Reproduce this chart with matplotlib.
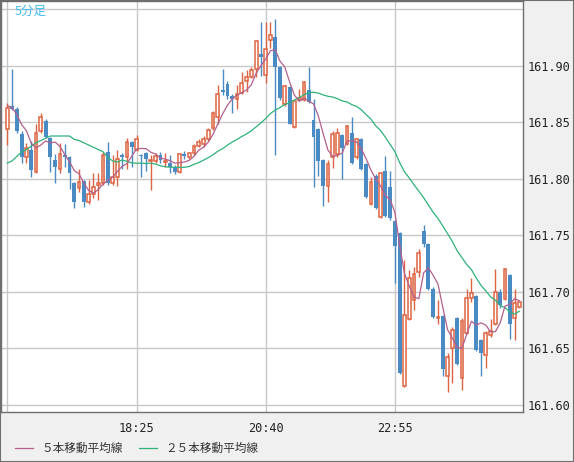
import numpy as np
import pandas as pd
import matplotlib
matplotlib.use("Agg")
import matplotlib.pyplot as plt
from matplotlib.patches import Rectangle

# 5-minute bars from 16:10, OHLC
start_time = "16:10"
opens = [161.844, 161.865, 161.862, 161.840, 161.819, 161.826, 161.806, 161.842, 161.851, 161.836,
         161.817, 161.809, 161.821, 161.819, 161.796, 161.792, 161.798, 161.780, 161.787, 161.795,
         161.796, 161.824, 161.796, 161.802, 161.821, 161.819, 161.833, 161.826, 161.821, 161.823,
         161.816, 161.816, 161.821, 161.815, 161.814, 161.811, 161.806, 161.822, 161.819, 161.823,
         161.829, 161.831, 161.835, 161.845, 161.855, 161.879, 161.884, 161.873, 161.871, 161.876,
         161.887, 161.890, 161.897, 161.911, 161.892, 161.923, 161.926, 161.899, 161.866, 161.881,
         161.846, 161.870, 161.870, 161.879, 161.852, 161.844, 161.817, 161.794, 161.819, 161.822,
         161.839, 161.831, 161.841, 161.819, 161.835, 161.813, 161.778, 161.803, 161.766, 161.807,
         161.793, 161.763, 161.752, 161.617, 161.676, 161.693, 161.718, 161.754, 161.742, 161.703,
         161.677, 161.679, 161.626, 161.650, 161.677, 161.624, 161.664, 161.695, 161.696, 161.657,
         161.644, 161.662, 161.672, 161.700, 161.694, 161.715, 161.677, 161.687]
highs = [161.867, 161.897, 161.864, 161.842, 161.832, 161.834, 161.849, 161.858, 161.853, 161.837,
         161.822, 161.832, 161.831, 161.820, 161.797, 161.809, 161.799, 161.799, 161.805, 161.805,
         161.824, 161.833, 161.821, 161.826, 161.823, 161.836, 161.834, 161.839, 161.822, 161.824,
         161.821, 161.823, 161.824, 161.823, 161.821, 161.812, 161.823, 161.825, 161.824, 161.831,
         161.835, 161.838, 161.845, 161.860, 161.883, 161.897, 161.887, 161.875, 161.883, 161.895,
         161.896, 161.899, 161.923, 161.939, 161.939, 161.939, 161.942, 161.900, 161.883, 161.882,
         161.870, 161.880, 161.887, 161.899, 161.871, 161.845, 161.818, 161.817, 161.842, 161.845,
         161.840, 161.848, 161.855, 161.836, 161.836, 161.814, 161.802, 161.804, 161.806, 161.820,
         161.807, 161.764, 161.753, 161.728, 161.719, 161.722, 161.738, 161.759, 161.743, 161.704,
         161.693, 161.680, 161.646, 161.669, 161.678, 161.677, 161.703, 161.712, 161.697, 161.658,
         161.665, 161.676, 161.720, 161.703, 161.721, 161.716, 161.703, 161.692]
lows = [161.830, 161.861, 161.841, 161.814, 161.814, 161.802, 161.805, 161.841, 161.836, 161.806,
        161.796, 161.805, 161.811, 161.791, 161.774, 161.788, 161.775, 161.778, 161.783, 161.781,
        161.795, 161.795, 161.795, 161.794, 161.809, 161.809, 161.811, 161.825, 161.802, 161.807,
        161.790, 161.814, 161.814, 161.811, 161.805, 161.804, 161.805, 161.818, 161.818, 161.821,
        161.828, 161.828, 161.834, 161.843, 161.849, 161.874, 161.871, 161.858, 161.862, 161.875,
        161.877, 161.889, 161.890, 161.891, 161.885, 161.916, 161.821, 161.870, 161.865, 161.849,
        161.845, 161.869, 161.869, 161.867, 161.793, 161.803, 161.776, 161.780, 161.810, 161.819,
        161.800, 161.830, 161.813, 161.818, 161.808, 161.783, 161.777, 161.773, 161.765, 161.766,
        161.764, 161.708, 161.627, 161.616, 161.675, 161.684, 161.713, 161.740, 161.702, 161.677,
        161.672, 161.626, 161.611, 161.619, 161.635, 161.613, 161.663, 161.691, 161.648, 161.626,
        161.633, 161.660, 161.671, 161.686, 161.693, 161.658, 161.657, 161.686]
closes = [161.863, 161.862, 161.842, 161.819, 161.827, 161.808, 161.841, 161.855, 161.837, 161.819,
          161.811, 161.822, 161.819, 161.805, 161.780, 161.797, 161.780, 161.787, 161.793, 161.796,
          161.821, 161.796, 161.802, 161.818, 161.819, 161.833, 161.828, 161.835, 161.820, 161.818,
          161.817, 161.820, 161.817, 161.816, 161.811, 161.806, 161.822, 161.820, 161.823, 161.829,
          161.833, 161.835, 161.843, 161.858, 161.875, 161.877, 161.873, 161.871, 161.875, 161.885,
          161.890, 161.896, 161.922, 161.908, 161.915, 161.927, 161.899, 161.872, 161.882, 161.849,
          161.869, 161.872, 161.886, 161.868, 161.837, 161.816, 161.794, 161.813, 161.840, 161.841,
          161.827, 161.847, 161.814, 161.835, 161.809, 161.784, 161.797, 161.774, 161.805, 161.767,
          161.765, 161.741, 161.628, 161.680, 161.712, 161.716, 161.734, 161.742, 161.703, 161.678,
          161.678, 161.632, 161.642, 161.666, 161.636, 161.674, 161.695, 161.699, 161.649, 161.646,
          161.664, 161.665, 161.700, 161.688, 161.720, 161.672, 161.690, 161.691]

# moving-average values at the left edge (their earlier bars are off the chart)
ma5_head = [161.865, 161.863, 161.857, 161.848]
ma25_head = [161.814, 161.816, 161.820, 161.824, 161.826, 161.829, 161.832, 161.834, 161.836, 161.838,
             161.838, 161.838, 161.838, 161.838, 161.835, 161.834, 161.832, 161.830, 161.828, 161.826,
             161.824, 161.819, 161.816, 161.815]

y_ticks = [161.60, 161.65, 161.70, 161.75, 161.80, 161.85, 161.90]
grid_times = ["16:10", "18:25", "20:40", "22:55"]
x_labels = ["", "18:25", "20:40", "22:55"]
title = "5分足"
legend_labels = ["５本移動平均線", "２５本移動平均線"]

up_color = "#dd6443"
down_color = "#4b8bc3"
ma5_color = "#b3608d"
ma25_color = "#2eb27a"
grid_color = "#c8c8c8"
frame_color = "#6e6e6e"

df = pd.DataFrame({"o": opens, "h": highs, "l": lows, "c": closes})
df.index = pd.date_range("2024-01-01 " + start_time, periods=len(df), freq="5min")
ma5 = df["c"].rolling(5).mean().to_numpy()
ma5[:len(ma5_head)] = ma5_head
ma25 = df["c"].rolling(25).mean().to_numpy()
ma25[:len(ma25_head)] = ma25_head

x = np.arange(len(df))
labels_hm = df.index.strftime("%H:%M").tolist()
grid_pos = [labels_hm.index(t) for t in grid_times]

fig = plt.figure(figsize=(5.74, 4.62), dpi=100, facecolor="#f0f0f0")
ax = fig.add_axes([1 / 574, 50 / 462, 522 / 574, 411 / 462])
ax.set_facecolor("white")

for g in y_ticks + [161.95]:
    ax.axhline(g, color=grid_color, lw=1, zorder=0)
for g in grid_pos:
    ax.axvline(g, color=grid_color, lw=1, zorder=0)

up = df["c"] >= df["o"]
body_lo = np.minimum(df["o"], df["c"])
body_h = np.maximum(np.abs(df["c"] - df["o"]), 0.0008)
ax.vlines(x[up], df["l"][up], df["h"][up], color=up_color, lw=1, zorder=2)
ax.vlines(x[~up], df["l"][~up], df["h"][~up], color=down_color, lw=1, zorder=2)
ax.bar(x[up], body_h[up], bottom=body_lo[up], width=0.58, facecolor="white",
       edgecolor=up_color, lw=1.1, zorder=3)
ax.bar(x[~up], body_h[~up], bottom=body_lo[~up], width=0.8, color=down_color,
       lw=0, zorder=3)

ax.plot(x, ma25, color=ma25_color, lw=0.9, zorder=4)
ax.plot(x, ma5, color=ma5_color, lw=0.9, zorder=4)

ax.set_xlim(-1.32, 107.77)
ax.set_ylim(161.5937, 161.9575)

ax.yaxis.tick_right()
ax.set_yticks(y_ticks)
ax.set_yticklabels(["%.2f" % v for v in y_ticks], family="DejaVu Sans Mono", fontsize=8.6, color="#222222")
ax.set_xticks(grid_pos)
ax.set_xticklabels(x_labels, family="DejaVu Sans Mono", fontsize=8.6, color="#222222")
ax.tick_params(axis="y", length=0, pad=3)
ax.tick_params(axis="x", length=0, pad=7)
for s in ax.spines.values():
    s.set_color(frame_color)
    s.set_linewidth(1)

ax.text(14 / 522, 1 - 10 / 411, title, transform=ax.transAxes, color="#3fbdf0",
        fontsize=9, family=["Noto Sans CJK JP", "DejaVu Sans"], va="center", ha="left")

# legend row at the bottom
ly = 1 - 448 / 462
fig.add_artist(plt.Line2D([15 / 574, 33 / 574], [ly, ly], color=ma5_color, lw=0.9))
fig.text(41 / 574, ly, legend_labels[0], fontsize=8.4, va="center", ha="left",
         family=["Noto Sans CJK JP", "DejaVu Sans"], color="#333333")
fig.add_artist(plt.Line2D([139 / 574, 157 / 574], [ly, ly], color=ma25_color, lw=0.9))
fig.text(165 / 574, ly, legend_labels[1], fontsize=8.4, va="center", ha="left",
         family=["Noto Sans CJK JP", "DejaVu Sans"], color="#333333")

fig.add_artist(Rectangle((0, 0), 1, 1, transform=fig.transFigure, fill=False,
                         edgecolor=frame_color, lw=1.5))

fig.savefig("out.png", dpi=100, facecolor=fig.get_facecolor())
